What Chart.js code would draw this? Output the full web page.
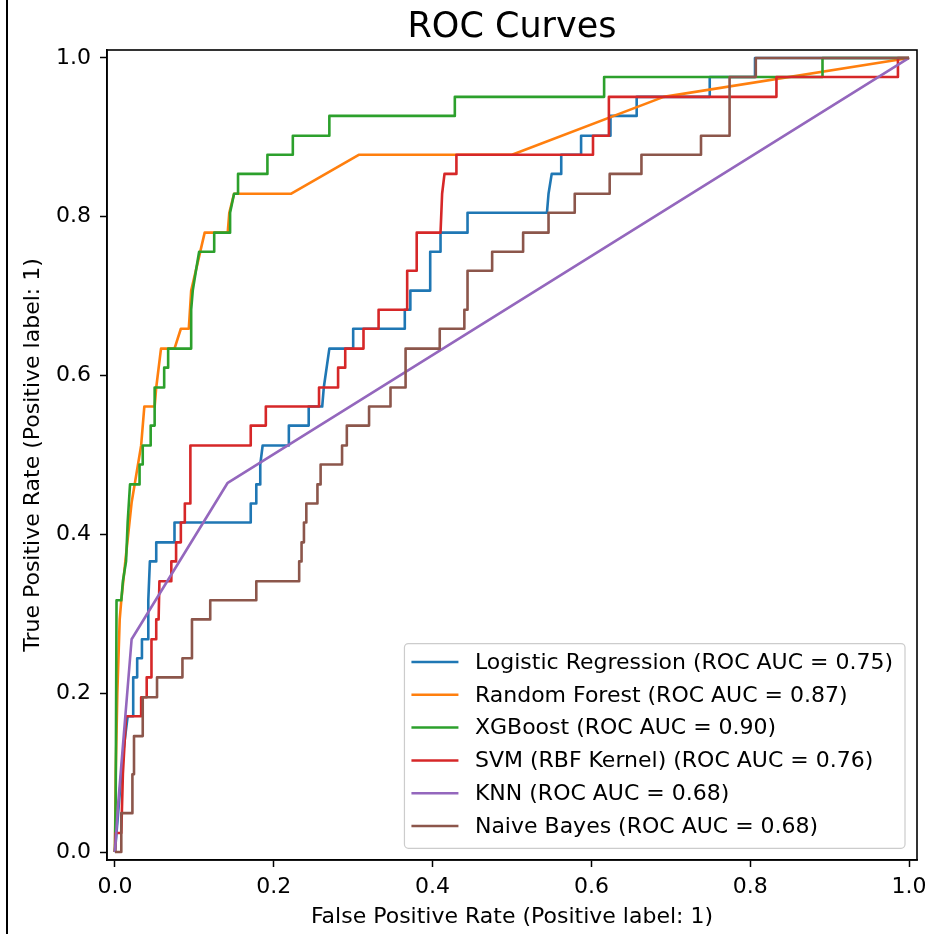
<!DOCTYPE html>
<html lang="en">
<head>
<meta charset="utf-8">
<title>ROC Curves</title>
<script src="https://cdn.jsdelivr.net/npm/chart.js@4.4.1/dist/chart.umd.min.js"></script>
<style>
    html, body { margin: 0; padding: 0; background: #fff; }
    #rocChart { display: block; }
</style>
</head>
<body>
<canvas id="rocChart" width="928" height="934"></canvas>
<script>
// ROC points, as [false positive rate, true positive rate]
const logisticRoc = [[0, 0], [0.004, 0.049], [0.010, 0.122], [0.016, 0.171], [0.023, 0.171], [0.023, 0.220],
    [0.028, 0.220], [0.028, 0.244], [0.034, 0.244], [0.034, 0.268], [0.042, 0.268], [0.042, 0.317],
    [0.044, 0.366], [0.052, 0.366], [0.052, 0.390], [0.075, 0.390], [0.075, 0.415], [0.171, 0.415],
    [0.171, 0.439], [0.178, 0.439], [0.178, 0.463], [0.183, 0.463], [0.183, 0.488], [0.186, 0.512],
    [0.219, 0.512], [0.219, 0.537], [0.244, 0.537], [0.244, 0.561], [0.261, 0.561], [0.263, 0.585],
    [0.270, 0.634], [0.300, 0.634], [0.300, 0.659], [0.365, 0.659], [0.365, 0.683], [0.372, 0.683],
    [0.372, 0.707], [0.397, 0.707], [0.397, 0.756], [0.410, 0.756], [0.410, 0.780], [0.444, 0.780],
    [0.444, 0.805], [0.544, 0.805], [0.546, 0.829], [0.550, 0.854], [0.562, 0.854], [0.562, 0.878],
    [0.587, 0.878], [0.587, 0.902], [0.624, 0.902], [0.624, 0.927], [0.657, 0.927], [0.657, 0.951],
    [0.749, 0.951], [0.749, 0.976], [0.806, 0.976], [0.806, 1], [1, 1]];

const forestRoc = [[0, 0], [0.001, 0.100], [0.003, 0.200], [0.006, 0.293], [0.008, 0.317], [0.014, 0.375],
    [0.021, 0.440], [0.033, 0.512], [0.037, 0.561], [0.050, 0.561], [0.052, 0.585], [0.058, 0.634],
    [0.075, 0.634], [0.083, 0.659], [0.093, 0.659], [0.096, 0.707], [0.113, 0.780], [0.142, 0.780],
    [0.144, 0.805], [0.150, 0.829], [0.222, 0.829], [0.307, 0.878], [0.500, 0.878], [0.691, 0.951], [1, 1]];

const xgbRoc = [[0, 0], [0.001, 0.073], [0.002, 0.317], [0.008, 0.317], [0.010, 0.341], [0.014, 0.366],
    [0.016, 0.415], [0.019, 0.463], [0.031, 0.463], [0.031, 0.488], [0.035, 0.488], [0.035, 0.512],
    [0.045, 0.512], [0.045, 0.537], [0.050, 0.537], [0.050, 0.585], [0.062, 0.585], [0.062, 0.610],
    [0.067, 0.610], [0.067, 0.634], [0.096, 0.634], [0.096, 0.683], [0.098, 0.707], [0.102, 0.732],
    [0.106, 0.756], [0.125, 0.756], [0.125, 0.780], [0.145, 0.780], [0.145, 0.805], [0.150, 0.829],
    [0.155, 0.829], [0.155, 0.854], [0.192, 0.854], [0.192, 0.878], [0.224, 0.878], [0.224, 0.902],
    [0.270, 0.902], [0.270, 0.927], [0.428, 0.927], [0.428, 0.951], [0.616, 0.951], [0.616, 0.976],
    [0.891, 0.976], [0.891, 1], [1, 1]];

const svmRoc = [[0, 0], [0.001, 0.024], [0.008, 0.024], [0.010, 0.098], [0.014, 0.171], [0.033, 0.171],
    [0.033, 0.195], [0.040, 0.195], [0.040, 0.220], [0.046, 0.220], [0.046, 0.268], [0.052, 0.268],
    [0.052, 0.293], [0.055, 0.293], [0.056, 0.341], [0.071, 0.341], [0.071, 0.366], [0.077, 0.366],
    [0.077, 0.390], [0.083, 0.390], [0.083, 0.415], [0.088, 0.415], [0.088, 0.439], [0.095, 0.439],
    [0.095, 0.512], [0.171, 0.512], [0.171, 0.537], [0.190, 0.537], [0.190, 0.561], [0.257, 0.561],
    [0.257, 0.585], [0.281, 0.585], [0.281, 0.610], [0.290, 0.610], [0.290, 0.634], [0.313, 0.634],
    [0.313, 0.659], [0.332, 0.659], [0.332, 0.683], [0.368, 0.683], [0.368, 0.732], [0.380, 0.732],
    [0.380, 0.780], [0.410, 0.780], [0.412, 0.829], [0.415, 0.854], [0.430, 0.854], [0.430, 0.878],
    [0.602, 0.878], [0.602, 0.902], [0.622, 0.902], [0.622, 0.951], [0.833, 0.951], [0.833, 0.976],
    [0.986, 0.976], [0.986, 1], [1, 1]];

const knnRoc = [[0, 0], [0.004, 0.060], [0.021, 0.268], [0.142, 0.465], [1, 1]];

const bayesRoc = [[0, 0], [0.008, 0], [0.008, 0.049], [0.022, 0.049], [0.022, 0.098], [0.024, 0.098],
    [0.024, 0.146], [0.035, 0.146], [0.035, 0.195], [0.053, 0.195], [0.053, 0.220], [0.085, 0.220],
    [0.085, 0.244], [0.097, 0.244], [0.097, 0.293], [0.120, 0.293], [0.120, 0.317], [0.178, 0.317],
    [0.178, 0.341], [0.232, 0.341], [0.232, 0.366], [0.235, 0.366], [0.235, 0.390], [0.238, 0.390],
    [0.238, 0.415], [0.241, 0.415], [0.241, 0.439], [0.255, 0.439], [0.255, 0.463], [0.259, 0.463],
    [0.259, 0.488], [0.286, 0.488], [0.286, 0.512], [0.292, 0.512], [0.292, 0.537], [0.320, 0.537],
    [0.320, 0.561], [0.347, 0.561], [0.347, 0.585], [0.366, 0.585], [0.366, 0.634], [0.409, 0.634],
    [0.409, 0.659], [0.440, 0.659], [0.440, 0.683], [0.444, 0.683], [0.444, 0.732], [0.475, 0.732],
    [0.475, 0.756], [0.514, 0.756], [0.514, 0.780], [0.546, 0.780], [0.546, 0.805], [0.579, 0.805],
    [0.579, 0.829], [0.623, 0.829], [0.623, 0.854], [0.663, 0.854], [0.663, 0.878], [0.738, 0.878],
    [0.738, 0.902], [0.774, 0.902], [0.774, 0.976], [0.807, 0.976], [0.807, 1], [1, 1]];

const modelNames = ['Logistic Regression', 'Random Forest', 'XGBoost', 'SVM (RBF Kernel)', 'KNN', 'Naive Bayes'];
const modelAuc = [0.75, 0.87, 0.90, 0.76, 0.68, 0.68];
const modelCurves = [logisticRoc, forestRoc, xgbRoc, svmRoc, knnRoc, bayesRoc];

const tickValues = [0, 0.2, 0.4, 0.6, 0.8, 1.0];
const tickLabels = ['0.0', '0.2', '0.4', '0.6', '0.8', '1.0'];

// matplotlib tab10
const lineColors = ['#1f77b4', '#ff7f0e', '#2ca02c', '#d62728', '#9467bd', '#8c564b'];

const FONT = "'DejaVu Sans', 'Liberation Sans', sans-serif";

document.addEventListener('DOMContentLoaded', function() {
    Chart.defaults.font.family = FONT;
    Chart.defaults.color = '#000';
    initRocChart();
});

/**
 * Title, top/right spines and the in-axes legend (matplotlib style)
 */
const rocDecorations = {
    id: 'rocDecorations',
    afterDraw(chart) {
        const { ctx, chartArea } = chart;
        const area = chartArea;
        ctx.save();

        // screenshot edge line on the far left
        ctx.fillStyle = '#000';
        ctx.fillRect(6, 0, 2, chart.height);

        // full frame
        ctx.strokeStyle = '#000';
        ctx.lineWidth = 1.6;
        ctx.strokeRect(area.left, area.top, area.right - area.left, area.bottom - area.top);

        // title
        ctx.font = '35px ' + FONT;
        ctx.textAlign = 'center';
        ctx.textBaseline = 'alphabetic';
        ctx.fillStyle = '#000';
        ctx.fillText('ROC Curves', (area.left + area.right) / 2, 37);

        // legend
        const datasets = chart.data.datasets;
        ctx.font = '22px ' + FONT;
        const textWidth = Math.max(...datasets.map(ds => ctx.measureText(ds.label).width));
        const rowGap = 32.8;
        const handle = 47;
        const boxW = 7 + handle + 16.5 + textWidth + 12;
        const boxH = 18.4 + rowGap * (datasets.length - 1) + 22.3;
        const boxX = area.right - 12 - boxW;
        const boxY = area.bottom - 11.7 - boxH;

        ctx.beginPath();
        ctx.roundRect(boxX, boxY, boxW, boxH, 4);
        ctx.fillStyle = 'rgba(255,255,255,0.8)';
        ctx.fill();
        ctx.strokeStyle = '#cccccc';
        ctx.lineWidth = 1.2;
        ctx.stroke();

        ctx.textAlign = 'left';
        ctx.textBaseline = 'middle';
        datasets.forEach((ds, i) => {
            const y = boxY + 18.4 + i * rowGap;
            ctx.beginPath();
            ctx.moveTo(boxX + 7, y);
            ctx.lineTo(boxX + 7 + handle, y);
            ctx.strokeStyle = ds.borderColor;
            ctx.lineWidth = 2.5;
            ctx.stroke();
            ctx.fillStyle = '#000';
            ctx.fillText(ds.label, boxX + 7 + handle + 16.5, y + 1);
        });

        ctx.restore();
    }
};

/**
 * Shared axis options: fixed ticks, outward tick marks, no grid
 */
function axisOptions(titleText, isX) {
    return {
        type: 'linear',
        min: -0.01,
        max: 1.01,
        afterBuildTicks: axis => {
            axis.ticks = tickValues.map(value => ({ value }));
        },
        afterFit: scale => {
            if (isX) {
                scale.height = 74;
                scale.paddingLeft = 0;
                scale.paddingRight = 0;
            } else {
                scale.width = 107;
                scale.paddingTop = 0;
                scale.paddingBottom = 0;
            }
        },
        ticks: {
            callback: (value, index) => tickLabels[index],
            font: { size: 22 },
            color: '#000',
            padding: isX ? 7 : 9,
            maxRotation: 0,
            autoSkip: false
        },
        grid: {
            drawOnChartArea: false,
            drawTicks: true,
            tickLength: 7,
            tickColor: '#000',
            tickWidth: 1.5
        },
        border: { display: true, color: '#000', width: 1.6 },
        title: {
            display: true,
            text: titleText,
            font: { size: 22 },
            color: '#000',
            padding: isX ? { top: 0, bottom: 3.4 } : { top: 20, bottom: 0 }
        }
    };
}

/**
 * Build the ROC chart
 */
function initRocChart() {
    const canvas = document.getElementById('rocChart');

    const datasets = modelCurves.map((curve, i) => ({
        label: `${modelNames[i]} (ROC AUC = ${modelAuc[i].toFixed(2)})`,
        data: curve.map(([x, y]) => ({ x, y })),
        showLine: true,
        borderColor: lineColors[i],
        backgroundColor: lineColors[i],
        borderWidth: 2.6,
        borderJoinStyle: 'round',
        pointRadius: 0,
        tension: 0,
        order: modelCurves.length - i  // later models drawn on top, as in matplotlib
    }));

    new Chart(canvas, {
        type: 'scatter',
        data: { datasets },
        options: {
            responsive: false,
            animation: false,
            devicePixelRatio: 1,
            layout: { padding: { top: 50, right: 11, bottom: 0, left: 0 } },
            plugins: {
                legend: { display: false },
                tooltip: { enabled: false },
                title: { display: false }
            },
            scales: {
                x: axisOptions('False Positive Rate (Positive label: 1)', true),
                y: axisOptions('True Positive Rate (Positive label: 1)', false)
            }
        },
        plugins: [rocDecorations]
    });
}
</script>
</body>
</html>
